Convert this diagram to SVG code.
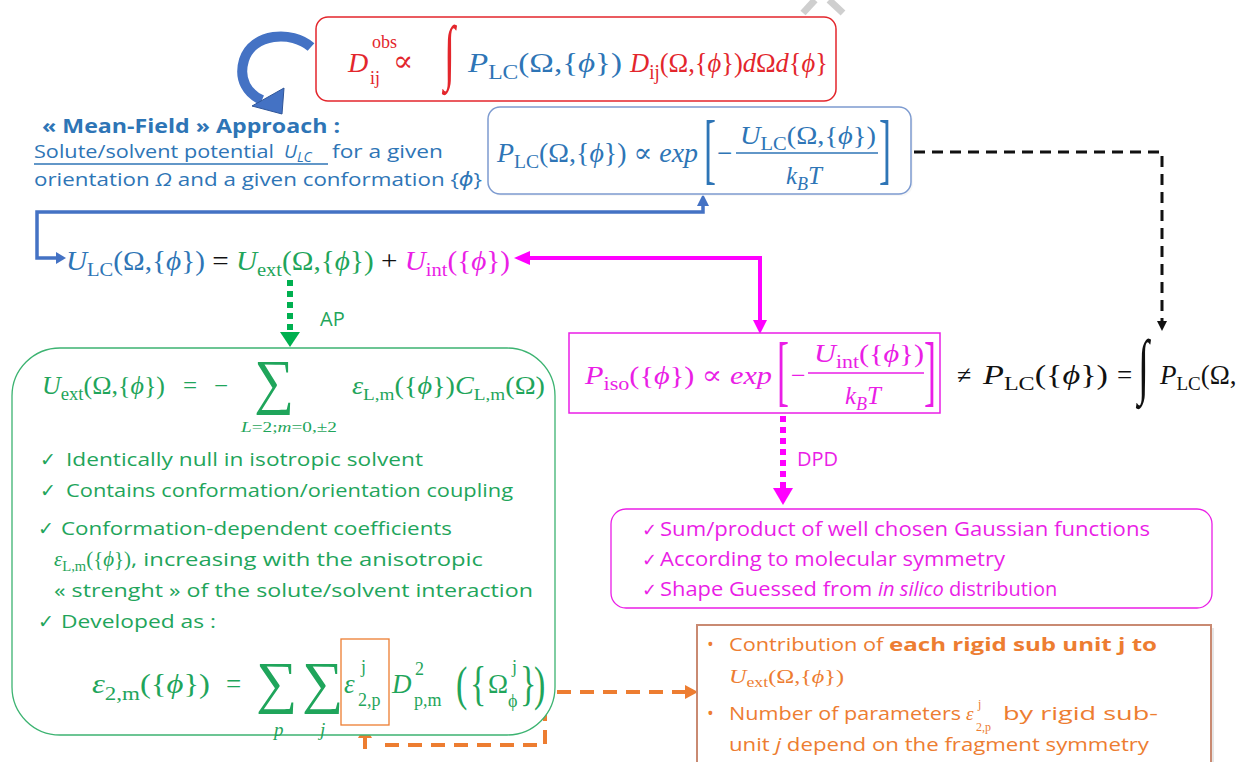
<svg xmlns="http://www.w3.org/2000/svg" width="1243" height="762" viewBox="0 0 1243 762">
<style>
.m{font-family:"Liberation Serif","DejaVu Serif",serif;}
.i{font-style:italic;}
.c{font-family:"Open Sans","DejaVu Sans",sans-serif;}
.ck{font-family:"DejaVu Sans",sans-serif;}
.red{fill:#e3262c;}
.blu{fill:#2e75b6;}
.grn{fill:#1fa55b;}
.mag{fill:#ea1ee6;}
.blk{fill:#111;}
.org{fill:#ed7d31;}
</style>
<rect width="1243" height="762" fill="#fff"/>
<g id="watermark" stroke="#cfcfcf" stroke-width="7">
<line x1="803" y1="13" x2="815" y2="0"/>
<line x1="829" y1="0" x2="843" y2="13"/>
</g>

<!-- connectors -->
<g id="connectors" fill="none">
<path d="M311,47 C292,30 252,33 244,60 C238,80 248,94 262,100" stroke="#4472c4" stroke-width="10"/>
<polygon points="252,106 284,88 282,114" fill="#4472c4" stroke="#2f5597" stroke-width="1"/>
<path d="M703,205 V212 H37 V258 H58" stroke="#4472c4" stroke-width="3.5"/>
<polygon points="697,206 709,206 703,194" fill="#4472c4"/>
<polygon points="56,252 56,264 66,258" fill="#4472c4"/>
<path d="M528,258 H760 V322" stroke="#ff00ff" stroke-width="4"/>
<polygon points="530,251 530,265 514,258" fill="#ff00ff"/>
<polygon points="753,320 767,320 760,334" fill="#ff00ff"/>
<path d="M914,152 H1162 V322" stroke="#111" stroke-width="3" stroke-dasharray="11 7"/>
<polygon points="1157,321 1167,321 1162,331" fill="#111"/>
<path d="M290,280 V333" stroke="#00b050" stroke-width="6" stroke-dasharray="6 5"/>
<polygon points="280,332 300,332 290,347" fill="#00b050"/>
<path d="M783,416 V490" stroke="#ff00ff" stroke-width="6" stroke-dasharray="6 5"/>
<polygon points="773,488 793,488 783,505" fill="#ff00ff"/>
<path d="M557,692 H686" stroke="#ed7d31" stroke-width="4" stroke-dasharray="14 9"/>
<polygon points="685,685 685,699 698,692" fill="#ed7d31"/>
<path d="M545,684 V745 H378" stroke="#ed7d31" stroke-width="4" stroke-dasharray="14 9"/>
<path d="M365,749 V736" stroke="#ed7d31" stroke-width="4"/>
<polygon points="358,738 372,738 365,726" fill="#ed7d31"/>
</g>

<!-- top red box -->
<g id="n_dobs">
<rect x="316" y="17" width="520" height="84" rx="12" fill="#fff" stroke="#e3262c" stroke-width="1.5"/>
<text class="m i red" x="348" y="72" font-size="28">D</text>
<text class="m red" x="372" y="48" font-size="18">obs</text>
<text class="m red" x="370" y="84" font-size="18">ij</text>
<text class="m red" x="393" y="71" font-size="30">∝</text>
<text class="m red" transform="translate(444,76) scale(1,1.8)" font-size="40">∫</text>
<text class="m blu" x="468" y="72" font-size="28" textLength="154" lengthAdjust="spacingAndGlyphs"><tspan class="i">P</tspan><tspan dy="7" font-size="20">LC</tspan><tspan dy="-7">(Ω,{</tspan><tspan class="i">ϕ</tspan><tspan>})</tspan></text>
<text class="m red" x="630" y="72" font-size="28" textLength="198" lengthAdjust="spacingAndGlyphs"><tspan class="i">D</tspan><tspan dy="7" font-size="20">ij</tspan><tspan dy="-7">(Ω,{</tspan><tspan class="i">ϕ</tspan><tspan>})</tspan><tspan class="i">d</tspan><tspan>Ω</tspan><tspan class="i">d</tspan><tspan>{</tspan><tspan class="i">ϕ</tspan><tspan>}</tspan></text>
</g>

<!-- mean field text -->
<g id="n_meanfield">
<text class="c blu" x="42" y="133" font-size="19" font-weight="bold" textLength="298" lengthAdjust="spacingAndGlyphs">« Mean-Field » Approach :</text>
<text class="c blu" x="34" y="158" font-size="19" textLength="240" lengthAdjust="spacingAndGlyphs">Solute/solvent potential</text>
<text class="c blu" x="284" y="158" font-size="19"><tspan class="i">U</tspan><tspan dy="4" font-size="14" class="i">LC</tspan></text>
<text class="c blu" x="332" y="158" font-size="19" textLength="111" lengthAdjust="spacingAndGlyphs">for a given</text>
<line x1="34" y1="164" x2="328" y2="164" stroke="#2e75b6" stroke-width="1.5"/>
<text class="c blu" x="34" y="186" font-size="19" textLength="448" lengthAdjust="spacingAndGlyphs">orientation <tspan class="i">Ω</tspan>  and a given conformation {<tspan class="i">ϕ</tspan>}</text>
</g>

<!-- P_LC box -->
<g id="n_plc">
<rect x="490" y="109" width="423" height="87" rx="12" fill="#f4f4f4" opacity="0.7"/>
<rect x="488" y="107" width="423" height="87" rx="12" fill="#fff" stroke="#7d9bd0" stroke-width="1.5"/>
<text class="m blu" x="497" y="162" font-size="27" textLength="201" lengthAdjust="spacingAndGlyphs"><tspan class="i">P</tspan><tspan dy="6" font-size="19">LC</tspan><tspan dy="-6">(Ω,{</tspan><tspan class="i">ϕ</tspan><tspan>}) ∝ </tspan><tspan class="i">exp</tspan></text>
<text class="m blu" transform="translate(704,175) scale(1,2.2)" font-size="36">[</text>
<text class="m blu" x="717" y="162" font-size="27">−</text>
<line x1="736" y1="153" x2="878" y2="153" stroke="#2e75b6" stroke-width="1.5"/>
<text class="m blu" x="740" y="144" font-size="25" textLength="136" lengthAdjust="spacingAndGlyphs"><tspan class="i">U</tspan><tspan dy="6" font-size="18">LC</tspan><tspan dy="-6">(Ω,{</tspan><tspan class="i">ϕ</tspan><tspan>})</tspan></text>
<text class="m blu" x="786" y="184" font-size="25"><tspan class="i">k</tspan><tspan dy="6" font-size="18" class="i">B</tspan><tspan dy="-6" class="i">T</tspan></text>
<text class="m blu" transform="translate(879,175) scale(1,2.2)" font-size="36">]</text>
</g>

<!-- U_LC equation -->
<g id="n_ulc">
<text class="m" x="66" y="270" font-size="27" textLength="444" lengthAdjust="spacingAndGlyphs"><tspan class="i blu">U</tspan><tspan class="blu" dy="6" font-size="19">LC</tspan><tspan class="blu" dy="-6">(Ω,{</tspan><tspan class="i blu">ϕ</tspan><tspan class="blu">})</tspan><tspan class="blk"> = </tspan><tspan class="i grn">U</tspan><tspan class="grn" dy="6" font-size="19">ext</tspan><tspan class="grn" dy="-6">(Ω,{</tspan><tspan class="i grn">ϕ</tspan><tspan class="grn">})</tspan><tspan class="blk"> + </tspan><tspan class="i mag">U</tspan><tspan class="mag" dy="6" font-size="19">int</tspan><tspan class="mag" dy="-6">({</tspan><tspan class="i mag">ϕ</tspan><tspan class="mag">})</tspan></text>
<text class="c grn" x="320" y="326" font-size="20">AP</text>
</g>

<!-- green box -->
<g id="n_uext">
<rect x="12" y="348" width="543" height="387" rx="48" fill="#fff" stroke="#3cb371" stroke-width="1.3"/>
<text class="m grn" x="42" y="394" font-size="25" textLength="123" lengthAdjust="spacingAndGlyphs"><tspan class="i">U</tspan><tspan dy="6" font-size="18">ext</tspan><tspan dy="-6">(Ω,{</tspan><tspan class="i">ϕ</tspan><tspan>})</tspan></text>
<text class="m grn" x="183" y="394" font-size="25">=</text>
<text class="m grn" x="214" y="394" font-size="25">−</text>
<text class="m grn" transform="translate(254,402) scale(1,1.1)" font-size="56">∑</text>
<text class="m i grn" x="241" y="432" font-size="15" textLength="96" lengthAdjust="spacingAndGlyphs">L<tspan font-style="normal">=2;</tspan>m<tspan font-style="normal">=0,±2</tspan></text>
<text class="m grn" x="352" y="394" font-size="25" textLength="193" lengthAdjust="spacingAndGlyphs"><tspan class="i">ε</tspan><tspan dy="6" font-size="17">L,m</tspan><tspan dy="-6">({</tspan><tspan class="i">ϕ</tspan><tspan>})</tspan><tspan class="i">C</tspan><tspan dy="6" font-size="17">L,m</tspan><tspan dy="-6">(Ω)</tspan></text>
<text class="ck grn" x="40" y="466" font-size="19">✓</text>
<text class="c grn" x="66" y="466" font-size="19" textLength="357" lengthAdjust="spacingAndGlyphs">Identically null in isotropic solvent</text>
<text class="ck grn" x="40" y="497" font-size="19">✓</text>
<text class="c grn" x="66" y="497" font-size="19" textLength="447" lengthAdjust="spacingAndGlyphs">Contains conformation/orientation coupling</text>
<text class="ck grn" x="38" y="535" font-size="19">✓</text>
<text class="c grn" x="61" y="535" font-size="19" textLength="391" lengthAdjust="spacingAndGlyphs">Conformation-dependent coefficients</text>
<text class="m grn" x="54" y="566" font-size="20" textLength="77" lengthAdjust="spacingAndGlyphs"><tspan class="i">ε</tspan><tspan dy="5" font-size="14">L,m</tspan><tspan dy="-5">({</tspan><tspan class="i">ϕ</tspan><tspan>})</tspan></text>
<text class="c grn" x="131" y="566" font-size="19" textLength="352" lengthAdjust="spacingAndGlyphs">, increasing with the anisotropic</text>
<text class="c grn" x="54" y="597" font-size="19" textLength="479" lengthAdjust="spacingAndGlyphs">« strenght » of the solute/solvent interaction</text>
<text class="ck grn" x="38" y="628" font-size="19">✓</text>
<text class="c grn" x="61" y="628" font-size="19" textLength="155" lengthAdjust="spacingAndGlyphs">Developed  as :</text>
<text class="m grn" x="92" y="693" font-size="27" textLength="118" lengthAdjust="spacingAndGlyphs"><tspan class="i">ε</tspan><tspan dy="7" font-size="19">2,m</tspan><tspan dy="-7">({</tspan><tspan class="i">ϕ</tspan><tspan>})</tspan></text>
<text class="m grn" x="226" y="693" font-size="27">=</text>
<text class="m grn" x="256" y="702" font-size="58">∑</text>
<text class="m grn" x="302" y="702" font-size="58">∑</text>
<text class="m i grn" x="274" y="736" font-size="19">p</text>
<text class="m i grn" x="320" y="736" font-size="19">j</text>
<rect x="341" y="639" width="48" height="86" fill="none" stroke="#ed7d31" stroke-width="1.3"/>
<text class="m i grn" x="344" y="693" font-size="27">ε</text>
<text class="m grn" x="361" y="673" font-size="18">j</text>
<text class="m grn" x="358" y="706" font-size="18">2,p</text>
<text class="m i grn" x="392" y="693" font-size="27">D</text>
<text class="m grn" x="415" y="675" font-size="18">2</text>
<text class="m grn" x="414" y="706" font-size="18">p,m</text>
<text class="m grn" transform="translate(456,700) scale(1,1.45)" font-size="34">(</text>
<text class="m grn" transform="translate(470,700) scale(1,1.45)" font-size="34">{</text>
<text class="m grn" x="488" y="693" font-size="27">Ω</text>
<text class="m grn" x="512" y="673" font-size="18">j</text>
<text class="m grn" x="508" y="707" font-size="18">ϕ</text>
<text class="m grn" transform="translate(520,700) scale(1,1.45)" font-size="34">}</text>
<text class="m grn" transform="translate(534,700) scale(1,1.45)" font-size="34">)</text>
</g>

<!-- P_iso box -->
<g id="n_piso">
<rect x="569" y="333" width="371" height="80" fill="#fff" stroke="#ea1ee6" stroke-width="1.5"/>
<text class="m mag" x="585" y="384" font-size="26" textLength="187" lengthAdjust="spacingAndGlyphs"><tspan class="i">P</tspan><tspan dy="6" font-size="19">iso</tspan><tspan dy="-6">({</tspan><tspan class="i">ϕ</tspan><tspan>}) ∝ </tspan><tspan class="i">exp</tspan></text>
<text class="m mag" transform="translate(777,397) scale(1,2.2)" font-size="36">[</text>
<text class="m mag" x="791" y="384" font-size="26">−</text>
<line x1="808" y1="373" x2="924" y2="373" stroke="#ea1ee6" stroke-width="1.5"/>
<text class="m mag" x="814" y="362" font-size="25" textLength="110" lengthAdjust="spacingAndGlyphs"><tspan class="i">U</tspan><tspan dy="6" font-size="18">int</tspan><tspan dy="-6">({</tspan><tspan class="i">ϕ</tspan><tspan>})</tspan></text>
<text class="m mag" x="845" y="404" font-size="25"><tspan class="i">k</tspan><tspan dy="6" font-size="18" class="i">B</tspan><tspan dy="-6" class="i">T</tspan></text>
<text class="m mag" transform="translate(924,397) scale(1,2.2)" font-size="36">]</text>
</g>

<!-- right black expression -->
<g id="n_plcphi">
<text class="m blk" x="957" y="384" font-size="26">≠</text>
<text class="m blk" x="983" y="384" font-size="27" textLength="125" lengthAdjust="spacingAndGlyphs"><tspan class="i">P</tspan><tspan dy="6" font-size="19">LC</tspan><tspan dy="-6">({</tspan><tspan class="i">ϕ</tspan><tspan>})</tspan></text>
<text class="m blk" x="1117" y="384" font-size="27">=</text>
<text class="m blk" transform="translate(1138,390) scale(1,1.8)" font-size="40">∫</text>
<text class="m blk" x="1160" y="384" font-size="27"><tspan class="i">P</tspan><tspan dy="6" font-size="19">LC</tspan><tspan dy="-6">(Ω,</tspan></text>
</g>

<text class="c mag" x="797" y="466" font-size="20">DPD</text>

<!-- magenta list box -->
<g id="n_dpd">
<rect x="611" y="509" width="601" height="99" rx="15" fill="#fff" stroke="#ea1ee6" stroke-width="1.3"/>
<text class="ck mag" x="642" y="536" font-size="18">✓</text>
<text class="c mag" x="660" y="536" font-size="20" textLength="490" lengthAdjust="spacingAndGlyphs">Sum/product of well chosen Gaussian functions</text>
<text class="ck mag" x="642" y="566" font-size="18">✓</text>
<text class="c mag" x="660" y="566" font-size="20" textLength="345" lengthAdjust="spacingAndGlyphs">According to molecular symmetry</text>
<text class="ck mag" x="642" y="596" font-size="18">✓</text>
<text class="c mag" x="660" y="596" font-size="20"><tspan textLength="218" lengthAdjust="spacingAndGlyphs">Shape Guessed from </tspan><tspan class="i">in silico</tspan><tspan> distribution</tspan></text>
</g>

<!-- orange box -->
<g id="n_contrib">
<rect x="700" y="628" width="514" height="140" fill="#e6e6e6"/>
<rect x="697" y="625" width="514" height="140" fill="#fff" stroke="#c98a72" stroke-width="2"/>
<text class="c org" x="707" y="651" font-size="18">•</text>
<text class="c org" x="729" y="651" font-size="18"><tspan textLength="160" lengthAdjust="spacingAndGlyphs">Contribution of </tspan><tspan font-weight="bold" textLength="268" lengthAdjust="spacingAndGlyphs">each rigid sub unit  j to</tspan></text>
<text class="m org" x="729" y="683" font-size="19" textLength="115" lengthAdjust="spacingAndGlyphs"><tspan class="i">U</tspan><tspan dy="4" font-size="14">ext</tspan><tspan dy="-4">(Ω,{</tspan><tspan class="i">ϕ</tspan><tspan>})</tspan></text>
<text class="c org" x="707" y="720" font-size="18">•</text>
<text class="c org" x="729" y="720" font-size="18" textLength="232" lengthAdjust="spacingAndGlyphs">Number of  parameters</text>
<text class="m i org" x="966" y="720" font-size="19">ε</text>
<text class="m org" x="978" y="708" font-size="12">j</text>
<text class="m org" x="976" y="731" font-size="12">2,p</text>
<text class="c org" x="1003" y="720" font-size="18" textLength="155" lengthAdjust="spacingAndGlyphs">by rigid sub-</text>
<text class="c org" x="729" y="751" font-size="18" textLength="420" lengthAdjust="spacingAndGlyphs">unit <tspan class="i">j</tspan> depend on the fragment symmetry</text>
</g>
</svg>
